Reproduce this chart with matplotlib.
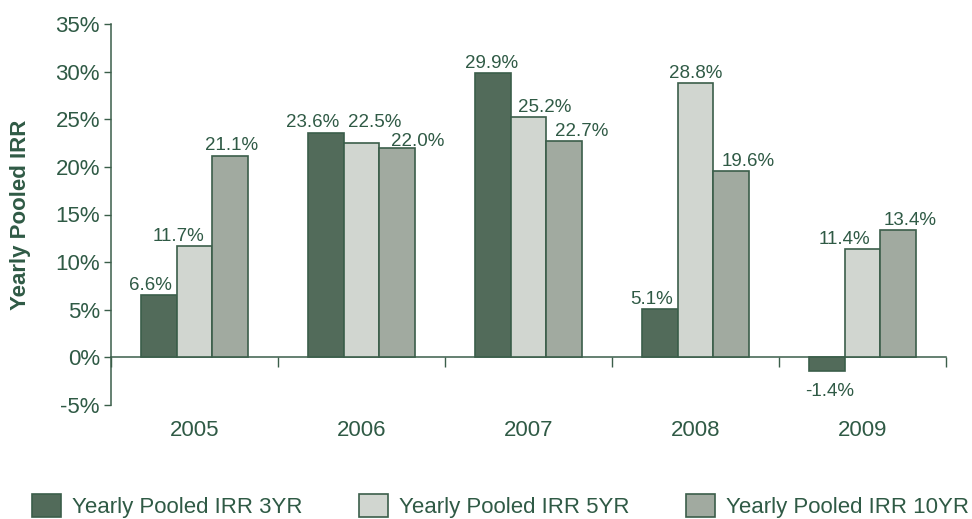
import matplotlib
matplotlib.use("Agg")
import matplotlib.pyplot as plt
from matplotlib.patches import Patch
import matplotlib.transforms as mtransforms
import numpy as np

plt.rcParams['font.family'] = ['Liberation Sans', 'DejaVu Sans']

years = ["2005", "2006", "2007", "2008", "2009"]
series_names = ["Yearly Pooled IRR 3YR", "Yearly Pooled IRR 5YR", "Yearly Pooled IRR 10YR"]
irr_3yr = [6.6, 23.6, 29.9, 5.1, -1.4]
irr_5yr = [11.7, 22.5, 25.2, 28.8, 11.4]
irr_10yr = [21.1, 22.0, 22.7, 19.6, 13.4]
y_ticks = [-5, 0, 5, 10, 15, 20, 25, 30, 35]

# label nudges (pixels) per series, per year, as placed in the original
label_dx = [[-8, -13, -1.5, -8.5, 3.5],
            [-15.5, 13.5, 16, 0, -18.5],
            [1, 20.5, 17, 16.5, 11.5]]
label_dy = [[0, 1, 0, 0, 0],
            [0, 11, 0, 0, 0],
            [1, -3, 0, 0, 0]]

colors = ["#526b5a", "#d1d6d0", "#a1aaa0"]
edge = "#3b5e4a"
text_color = "#2f5a45"

fig = plt.figure(figsize=(9.72, 5.19), dpi=100)
ax = fig.add_axes([111/972, 1-405/519, (946-111)/972, (405-24)/519])

px2pt = 72 / 100
x = np.arange(len(years))
width = 0.215
all_series = [irr_3yr, irr_5yr, irr_10yr]
for i, (vals, col, name) in enumerate(zip(all_series, colors, series_names)):
    pos = x + (i - 1) * width
    ax.bar(pos, vals, width, color=col, edgecolor=edge, linewidth=1.2, label=name, zorder=3)
    for j, (px, v) in enumerate(zip(pos, vals)):
        dx = label_dx[i][j] * px2pt
        if v >= 0:
            dy = (5 + label_dy[i][j]) * px2pt
            ax.annotate(f"{v:.1f}%", (px, v), xytext=(dx, dy), textcoords="offset points",
                        ha="center", va="baseline", fontsize=13.5, color=text_color)
        else:
            dy = -(12 + label_dy[i][j]) * px2pt
            ax.annotate(f"{v:.1f}%", (px, v), xytext=(dx, dy), textcoords="offset points",
                        ha="center", va="top", fontsize=13.5, color=text_color)

ax.set_xlim(-0.5, len(years) - 0.5)
ax.set_ylim(-5, 35)
ax.set_yticks(y_ticks)
ax.set_yticklabels([f"{t}%" for t in y_ticks], fontsize=16, color=text_color)
ax.tick_params(axis="y", direction="out", length=5, color=edge, width=1, pad=3)

ax.set_xticks(np.arange(len(years) + 1) - 0.5)
ax.set_xticklabels([])
ax.tick_params(axis="x", direction="out", length=7, color=edge, width=1)

for s in ["top", "right"]:
    ax.spines[s].set_visible(False)
ax.spines["bottom"].set_position(("data", 0))
ax.spines["bottom"].set_color(edge)
ax.spines["left"].set_color(edge)
ax.spines["bottom"].set_linewidth(1.1)
ax.spines["left"].set_linewidth(1.1)

trans = mtransforms.blended_transform_factory(ax.transData, ax.transAxes)
for xi, yr in zip(x, years):
    ax.text(xi, -0.066, yr, transform=trans, ha="center", va="center", fontsize=16, color=text_color)

fig.text(21/972, 1-215/519, "Yearly Pooled IRR", rotation=90, ha="center", va="center",
         fontsize=16, fontweight="bold", color=text_color)

handles = [Patch(facecolor=c, edgecolor=edge, linewidth=1.2) for c in colors]
fig.legend(handles, series_names, loc="center left", bbox_to_anchor=(32/972, 1-506/519), ncol=3,
           frameon=False, fontsize=16, handlelength=1.3, handleheight=1.25,
           handletextpad=0.5, columnspacing=2.55, labelcolor=text_color,
           borderpad=0, borderaxespad=0)

fig.savefig("out.png", dpi=100)
